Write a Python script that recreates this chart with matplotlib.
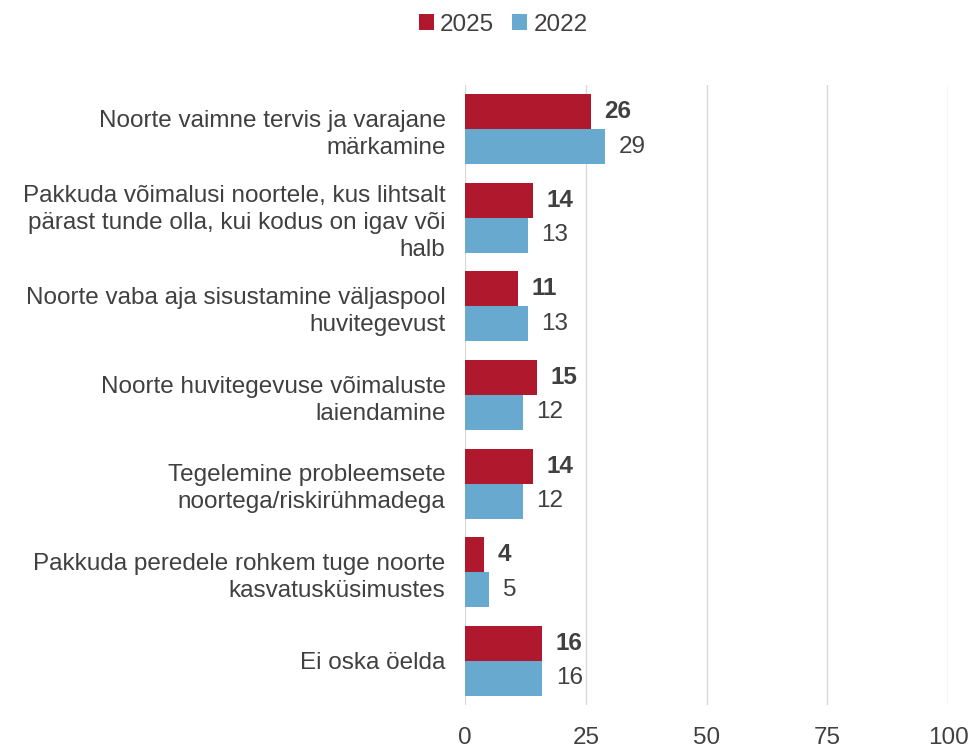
import matplotlib
matplotlib.use("Agg")
import matplotlib.pyplot as plt
import numpy as np

categories = [
    "Noorte vaimne tervis ja varajane\nmärkamine",
    "Pakkuda võimalusi noortele, kus lihtsalt\npärast tunde olla, kui kodus on igav või\nhalb",
    "Noorte vaba aja sisustamine väljaspool\nhuvitegevust",
    "Noorte huvitegevuse võimaluste\nlaiendamine",
    "Tegelemine probleemsete\nnoortega/riskirühmadega",
    "Pakkuda peredele rohkem tuge noorte\nkasvatusküsimustes",
    "Ei oska öelda",
]
values_2025 = [26, 14, 11, 15, 14, 4, 16]
values_2022 = [29, 13, 13, 12, 12, 5, 16]
xticks = [0, 25, 50, 75, 100]

c2025 = "#B0182E"
c2022 = "#67A9CF"
tcol = "#404040"
fs = 17.5

plt.rcParams['font.family'] = ['Liberation Sans', 'DejaVu Sans']

fig = plt.figure(figsize=(9.71, 7.48), dpi=100)
ax = fig.add_axes([465/971, 1-705/748, (948-465)/971, (705-85)/748])

n = len(categories)
y = np.arange(n)
h = 0.395
ax.barh(y - h/2, values_2025, height=h, color=c2025, label="2025", zorder=3)
ax.barh(y + h/2, values_2022, height=h, color=c2022, label="2022", zorder=3)

for yi, v in zip(y, values_2025):
    ax.text(v + 2.8, yi - h/2, str(v), va='center', ha='left', fontsize=fs,
            fontweight='bold', color=tcol)
for yi, v in zip(y, values_2022):
    ax.text(v + 2.8, yi + h/2, str(v), va='center', ha='left', fontsize=fs,
            color=tcol)

ax.set_xlim(0, 100)
ax.set_ylim(n - 0.5, -0.5)
ax.set_xticks(xticks)
ax.set_xticklabels([str(t) for t in xticks], fontsize=fs, color=tcol)
ax.set_yticks(y)
ax.set_yticklabels(categories, fontsize=fs, color=tcol, ha='right', linespacing=1.3)
ax.tick_params(axis='both', length=0)
ax.tick_params(axis='x', pad=16)
ax.tick_params(axis='y', pad=14)
ax.grid(axis='x', color='#D9D9D9', linewidth=1, zorder=0)
for s in ax.spines.values():
    s.set_visible(False)

fig.legend(loc='upper center', bbox_to_anchor=(503/971, 1.011), ncol=2, frameon=False,
           fontsize=fs, handlelength=0.62, handleheight=0.62, handletextpad=0.25,
           columnspacing=0.75, labelcolor=tcol)

fig.savefig("out.png", dpi=100)
